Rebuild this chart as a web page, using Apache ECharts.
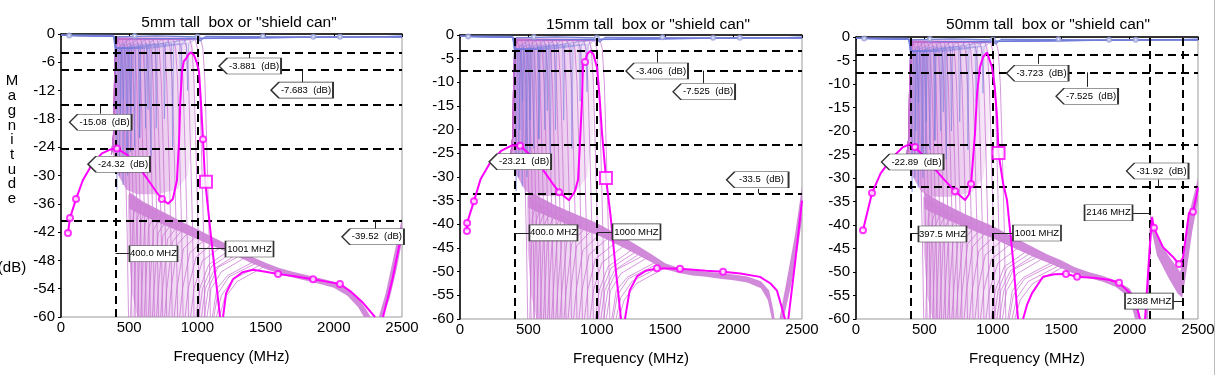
<!DOCTYPE html>
<html>
<head>
<meta charset="utf-8">
<script src="https://cdn.jsdelivr.net/npm/echarts@6/dist/echarts.min.js"></script>
<style>
html,body{margin:0;padding:0;background:#fff}
#chart{width:1218px;height:375px}
</style>
</head>
<body>
<div id="chart"></div>
<script>
// ---- data (MHz, dB) ----
const titles = ['5mm tall  box or "shield can"', '15mm tall  box or "shield can"', '50mm tall  box or "shield can"'];
const yIntervals = [6, 5, 5];

// swept family (light violet), shared by the three panels
const familyViolet = [
  [[370,-25.5],[384,-22],[392,-10],[400,-2.5],[415,-1],[425,-1.2],[440,-3],[455,-10],[470,-25],[485,-42],[495,-60],null,[510,-60],[515,-54],[528,-38.8],[560,-35.3]],
  [[375,-25],[387,-21],[395,-9],[404,-2.2],[420,-1],[450,-1.2],[465,-3],[480,-10],[495,-25],[510,-42],[520,-60],null,[535,-60],[541,-54],[556,-39.3],[596,-35.8]],
  [[378,-24.5],[390,-19],[398,-7],[408,-2],[425,-1],[475,-1.2],[490,-3],[505,-10],[520,-25],[535,-42],[545,-60],null,[560,-60],[567,-54],[585,-39.8],[632,-36.3]],
  [[370,-25.5],[384,-22],[392,-10],[400,-2.5],[415,-1],[500,-1.2],[515,-3],[530,-10],[545,-25],[560,-42],[570,-60],null,[585,-60],[593,-54],[614,-40.3],[668,-36.8]],
  [[375,-25],[387,-21],[395,-9],[404,-2.2],[420,-1],[525,-1.2],[540,-3],[555,-10],[570,-25],[585,-42],[595,-60],null,[610,-60],[620,-54],[643,-40.9],[705,-37.4]],
  [[378,-24.5],[390,-19],[398,-7],[408,-2],[425,-1],[555,-1.2],[570,-3],[585,-10],[600,-25],[615,-42],[625,-60],null,[640,-60],[651,-54],[678,-41.5],[748,-38]],
  [[370,-25.5],[384,-22],[392,-10],[400,-2.5],[415,-1],[585,-1.2],[600,-3],[615,-10],[630,-25],[645,-42],[655,-60],null,[670,-60],[682,-54],[713,-42.2],[792,-38.7]],
  [[375,-25],[387,-21],[395,-9],[404,-2.2],[420,-1],[615,-1.2],[630,-3],[645,-10],[660,-25],[675,-42],[685,-60],null,[700,-60],[714,-54],[747,-42.8],[835,-39.3]],
  [[378,-24.5],[390,-19],[398,-7],[408,-2],[425,-1],[645,-1.2],[660,-3],[675,-10],[690,-25],[705,-42],[715,-60],null,[730,-60],[745,-54],[782,-43.4],[879,-39.9]],
  [[370,-25.5],[384,-22],[392,-10],[400,-2.5],[415,-1],[675,-1.2],[690,-3],[705,-10],[720,-25],[735,-42],[745,-60],null,[760,-60],[776,-54],[817,-44],[922,-40.5]],
  [[375,-25],[387,-21],[395,-9],[404,-2.2],[420,-1],[705,-1.2],[720,-3],[735,-10],[750,-25],[765,-42],[775,-60],null,[790,-60],[808,-54],[852,-44.6],[966,-41.1]],
  [[378,-24.5],[390,-19],[398,-7],[408,-2],[425,-1],[745,-1.2],[760,-3],[775,-10],[790,-25],[805,-42],[815,-60],null,[830,-60],[849,-54],[898,-45.5],[1024,-42]],
  [[370,-25.5],[384,-22],[392,-10],[400,-2.5],[415,-1],[785,-1.2],[800,-3],[815,-10],[830,-25],[845,-42],[855,-60],null,[870,-60],[891,-54],[944,-46.4],[1082,-42.9]],
  [[375,-25],[387,-21],[395,-9],[404,-2.2],[420,-1],[825,-1.2],[840,-3],[855,-10],[870,-25],[885,-42],[895,-60],null,[910,-60],[933,-54],[990,-47.3],[1140,-43.8]],
  [[378,-24.5],[390,-19],[398,-7],[408,-2],[425,-1],[865,-1.2],[880,-3],[895,-10],[910,-25],[925,-42],[935,-60],null,[950,-60],[975,-54],[1037,-48.1],[1198,-44.6]],
  [[370,-25.5],[384,-22],[392,-10],[400,-2.5],[415,-1],[905,-1.2],[920,-3],[935,-10],[950,-25],[965,-42],[975,-60],null,[990,-60],[1017,-54],[1083,-48.9],[1256,-45.4]],
  [[375,-25],[387,-21],[395,-9],[404,-2.2],[420,-1],[945,-1.2],[960,-3],[975,-10],[990,-25],[1005,-42],[1015,-60],null,[1030,-60],[1058,-54],[1129,-49.7],[1314,-46.2]],
  [[378,-24.5],[390,-19],[398,-7],[408,-2],[425,-1],[985,-1.2],[1000,-3],[1015,-10],[1030,-25],[1045,-42],[1055,-60],null,[1070,-60],[1100,-54],[1176,-50.4],[1372,-47]],
  [[370,-25.5],[384,-22],[392,-10],[400,-2.5],[415,-1],[1025,-1.2],[1040,-3],[1055,-10],[1070,-25],[1085,-42],[1095,-60],null,[1110,-60],[1142,-54],[1222,-51.2],[1430,-48]]
];
// extra zeros of the family, rising back into the band
const familyArcs = [
  [[1120,-60],[1150,-55],[1230,-51.5],[1450,-48.3]],
  [[1140,-60],[1175,-55.5],[1260,-52],[1480,-48.7]],
  [[1160,-60],[1200,-56],[1290,-52.5],[1510,-49]],
  [[1050,-60],[1080,-54],[1150,-49.5],[1340,-46.6]],
  [[1010,-60],[1038,-54],[1105,-49.2],[1285,-45.8]]
];
// dense parts of the family, drawn as shaded envelopes
const fanUpper = [[380,-25],[386,-20],[393,-8],[400,-1.5],[410,-0.4],[960,-0.4],[985,-6],[975,-20],[930,-30],[850,-33],[700,-34],[560,-34],[480,-33],[420,-30],[395,-28]];
const fanLower = [[490,-34],[700,-37.5],[1000,-42],[1060,-44],[1060,-60],[560,-60],[520,-55],[495,-45]];

// reflection family (light blue)
const familyBlue = [
  [[0,-0.3],[385,-0.5],[395,-3],[402,-12],[410,-33],[418,-3],[450,-2],[458,-14],[466,-2],[500,-1],[2500,-0.5]],
  [[0,-0.3],[385,-0.5],[395,-3],[422,-3],[430,-30],[438,-3],[505,-2],[513,-18],[521,-2],[560,-1],[2500,-0.5]],
  [[0,-0.3],[388,-0.5],[398,-3],[447,-3],[455,-32],[463,-3],[570,-2],[578,-22],[586,-2],[620,-1],[2500,-0.5]],
  [[0,-0.3],[388,-0.5],[398,-3],[472,-3],[480,-27],[488,-3],[630,-2],[638,-16],[646,-2],[690,-1],[2500,-0.5]],
  [[0,-0.3],[390,-0.5],[400,-3],[502,-3],[510,-25],[518,-3],[690,-2],[698,-20],[706,-2],[740,-1],[2500,-0.5]],
  [[0,-0.3],[390,-0.5],[400,-3],[532,-3],[540,-24],[548,-3],[750,-2],[758,-18],[766,-2],[800,-1],[2500,-0.5]],
  [[0,-0.3],[392,-0.5],[402,-3],[567,-3],[575,-22],[583,-3],[810,-2],[818,-24],[826,-2],[870,-1],[2500,-0.5]],
  [[0,-0.3],[392,-0.5],[402,-3],[612,-3],[620,-20],[628,-3],[870,-2],[878,-14],[886,-2],[930,-1],[2500,-0.5]],
  [[0,-0.3],[395,-0.5],[405,-3],[652,-3],[660,-26],[668,-3],[920,-2],[928,-12],[936,-2],[990,-1],[2500,-0.5]],
  [[0,-0.3],[395,-0.5],[405,-3],[430,-3],[437,-20],[444,-3],[482,-3],[489,-30],[496,-3],[980,-1],[2500,-0.5]]
];
const blueMain = [[0,-0.2],[380,-0.3],[395,-1.5],[410,-0.6],[700,-0.4],[1000,-0.6],[1020,-1.5],[1060,-0.5],[2500,-0.7]];
const blueMarks = [[60,-0.3],[540,-0.4],[1000,-0.6],[1480,-0.5],[1850,-0.6],[2045,-0.6]];

// panel 1: 5mm
const magenta1 = [[51,-42.2],[66,-39],[110,-35],[160,-31],[230,-27.5],[300,-25.3],[360,-24.5],[410,-24.3],[480,-25.5],[560,-27.8],[640,-31],[700,-33.5],[740,-35],[785,-36],[820,-35],[850,-31],[865,-23],[875,-14],[887,-8],[900,-5.8],[915,-5.3],[935,-4.3],[953,-3.9],[975,-4.5],[995,-6],[1012,-8],[1025,-14],[1041,-22.3],[1056,-31],[1100,-43],[1135,-52],[1166,-60],null,[1188,-60],[1210,-55],[1261,-52],[1330,-50.5],[1408,-50],[1500,-50.4],[1591,-50.9],[1700,-51.3],[1848,-52],[1950,-52.5],[2045,-53],[2120,-54.5],[2214,-57],[2302,-60],null,[2361,-60],[2430,-52],[2500,-42]];
const marks1 = [[51,-42.2],[66,-39],[110,-35],[410,-24.3],[740,-35],[1041,-22.3],[1591,-50.9],[1848,-52],[2045,-53]];
const boxes1 = [[1063,-31.3]];
const hLines1 = [-3.881, -7.683, -15.08, -24.32, -39.52];
const vLines1 = [400, 1001];
const bandUpper1 = [[500,-33.5],[600,-35.5],[700,-37],[800,-38.5],[900,-40],[1000,-41.4],[1100,-42.9],[1200,-44.3],[1300,-45.8],[1400,-47.2],[1500,-48.5],[1600,-49.6],[1700,-50.4],[1800,-51.1],[1900,-51.8],[2000,-52.5],[2100,-54],[2180,-56],[2240,-58.5],[2270,-60]];
const bandLower1 = [[500,-37],[600,-38.5],[700,-39.8],[800,-41],[900,-42.2],[1000,-43.5],[1100,-44.8],[1200,-46],[1300,-47.3],[1400,-48.6],[1500,-49.8],[1600,-50.8],[1700,-51.6],[1800,-52.3],[1900,-53],[2000,-53.8],[2100,-55.5],[2180,-58],[2220,-60]];
const riseUpper1 = [[2330,-60],[2380,-55],[2440,-47],[2500,-39]];
const riseLower1 = [[2360,-60],[2410,-56],[2460,-50],[2500,-44]];
const callouts1 = [[1386,-6.8,'-3.881  (dB)'],[1767,-11.9,'-7.683  (dB)'],[290,-18.7,'-15.08  (dB)'],[425,-27.6,'-24.32  (dB)'],[2287,-43.0,'-39.52  (dB)']];
const mhz1 = [[678,-46.6,'400.0 MHZ'],[1382,-45.6,'1001 MHZ']];
const leaders1 = [[[1378,-3.881],[1378,-5.4]],[[1767,-7.683],[1767,-10.2]],[[286,-15.08],[286,-16.9]],[[2302,-39.52],[2302,-41.3]],[[400,-46.4],[506,-46.4]],[[1001,-45.4],[1210,-45.4]]];

// panel 2: 15mm
const magenta2 = [[51,-41.4],[52,-39.7],[102,-35.1],[150,-30.5],[220,-27],[300,-24.5],[380,-23.3],[439,-23.4],[520,-25.5],[607,-28.5],[680,-31.5],[724,-33.2],[797,-34.9],[840,-33],[863,-30.6],[877,-22.8],[892,-13.7],[899,-6],[914,-5.7],[930,-4],[950,-3.4],[975,-4],[1001,-6.8],[1020,-13],[1038,-20.7],[1067,-30.2],[1100,-38],[1140,-50],[1177,-60],null,[1206,-60],[1240,-54],[1294,-51],[1360,-49.8],[1440,-49.3],[1608,-49.4],[1800,-49.8],[1923,-50],[2050,-50.4],[2193,-51.1],[2270,-52.5],[2317,-54],[2376,-60],null,[2400,-60],[2450,-48],[2500,-35]];
const marks2 = [[51,-41.4],[52,-39.7],[102,-35.1],[439,-23.4],[724,-33.2],[914,-5.7],[1440,-49.3],[1608,-49.4],[1923,-50]];
const boxes2 = [[1067,-30.2]];
const hLines2 = [-3.406, -7.525, -23.21, -33.5];
const vLines2 = [400, 1000];
const bandUpper2 = [[500,-33],[600,-34.5],[700,-36],[800,-37.3],[900,-38.5],[1000,-39.7],[1100,-41.3],[1200,-42.8],[1300,-44.5],[1400,-46.3],[1500,-48.2],[1600,-49.2],[1700,-49.7],[1800,-50],[1900,-50.3],[2000,-50.6],[2100,-51],[2200,-52],[2260,-54],[2290,-58],[2300,-60]];
const bandLower2 = [[500,-36.5],[600,-37.8],[700,-39],[800,-40.2],[900,-41.2],[1000,-42.2],[1100,-43.6],[1200,-45],[1300,-46.5],[1400,-48],[1500,-49.5],[1600,-50.3],[1700,-50.8],[1800,-51.1],[1900,-51.5],[2000,-51.8],[2100,-52.3],[2200,-53.5],[2250,-56],[2280,-60]];
const riseUpper2 = [[2335,-60],[2400,-50],[2450,-42],[2500,-32]];
const riseLower2 = [[2365,-60],[2420,-53],[2470,-45],[2500,-39]];
const callouts2 = [[1440,-7.6,'-3.406  (dB)'],[1784,-12.0,'-7.525  (dB)'],[439,-26.8,'-23.21  (dB)'],[2175,-30.6,'-33.5  (dB)']];
const mhz2 = [[683,-41.8,'400.0 MHZ'],[1290,-41.6,'1000 MHZ']];
const leaders2 = [[[1440,-3.406],[1440,-5.8]],[[1776,-7.525],[1776,-10.2]],[[2178,-33.5],[2178,-32.5]],[[400,-41.8],[512,-41.8]],[[1000,-41.6],[1118,-41.6]]];

// panel 3: 50mm
const magenta3 = [[51,-41.1],[117,-33.2],[180,-29],[270,-25.5],[340,-23.5],[395,-22.8],[431,-23.4],[500,-25.5],[563,-27.7],[650,-30.5],[724,-32.8],[797,-34.7],[825,-33.5],[841,-31.3],[870,-20.4],[885,-12],[906,-6.4],[930,-4.2],[958,-3.3],[994,-6.4],[1015,-11],[1031,-17],[1042,-24.7],[1075,-31.1],[1104,-34.7],[1150,-48],[1184,-60],null,[1221,-60],[1250,-57],[1287,-54.5],[1367,-51],[1450,-50.5],[1535,-50.4],[1616,-51],[1750,-51.3],[1857,-51.7],[1923,-52.3],[2003,-54.5],[2050,-57],[2076,-60],null,[2113,-60],[2140,-48],[2164,-38.3],[2178,-40.6],[2244,-44.7],[2317,-46.8],[2361,-48.3],[2390,-47],[2405,-43.8],[2434,-37.4],[2463,-37.2],[2493,-33.2],[2500,-32]];
const marks3 = [[51,-41.1],[117,-33.2],[431,-23.4],[724,-32.8],[841,-31.3],[1535,-50.4],[1616,-51],[1923,-52.3],[2178,-40.6],[2361,-48.3],[2463,-37.2]];
const boxes3 = [[1042,-24.7]];
const hLines3 = [-3.723, -7.525, -22.89, -31.92];
const vLines3 = [397.5, 1001, 2146, 2388];
const bandUpper3 = [[500,-33],[600,-34.8],[700,-36.3],[800,-37.7],[900,-39],[1000,-40.2],[1100,-41.8],[1200,-43.3],[1300,-44.8],[1400,-46.3],[1500,-47.5],[1600,-49],[1700,-50],[1800,-50.8],[1900,-51.8],[2000,-53.5],[2050,-56],[2080,-60]];
const bandLower3 = [[500,-36.5],[600,-38],[700,-39.3],[800,-40.5],[900,-41.7],[1000,-42.8],[1100,-44.2],[1200,-45.5],[1300,-46.8],[1400,-48],[1500,-49.2],[1600,-50.4],[1700,-51.3],[1800,-52],[1900,-53.2],[2000,-55.5],[2040,-60]];
const riseUpper3 = [[2118,-60],[2150,-37.5],[2180,-41],[2250,-45],[2320,-48],[2370,-50],[2400,-46],[2440,-37],[2500,-30]];
const riseLower3 = [[2135,-60],[2160,-41],[2200,-46.5],[2280,-51],[2350,-54.5],[2385,-55.5],[2410,-51],[2460,-41],[2500,-35]];
const callouts3 = [[1327,-7.7,'-3.723  (dB)'],[1689,-12.6,'-7.525  (dB)'],[413,-26.6,'-22.89  (dB)'],[2204,-28.5,'-31.92  (dB)']];
const mhz3 = [[632,-41.9,'397.5 MHZ'],[1323,-41.7,'1001 MHZ'],[1846,-37.4,'2146 MHZ'],[2142,-56.2,'2388 MHZ']];
const leaders3 = [[[1330,-3.723],[1330,-5.7]],[[1689,-7.525],[1689,-10.6]],[[2208,-31.92],[2208,-30.3]],[[397.5,-41.8],[460,-41.8]],[[1001,-41.7],[1148,-41.7]],[[2018,-37.4],[2146,-37.4]],[[2318,-56.2],[2388,-56.2]]];

// ---- layout / styles ----
const FONT = 'Liberation Sans, Arial, sans-serif';
const grids = [
  {left: 61, top: 34, width: 341, height: 283},
  {left: 460, top: 35, width: 342, height: 284},
  {left: 856, top: 37, width: 342, height: 282}
];
const titleX = [234, 643, 1043];
const titleY = [10, 12, 12];

const panels = [
  {magenta: magenta1, marks: marks1, boxes: boxes1, hLines: hLines1, vLines: vLines1, bands: [[bandUpper1, bandLower1], [riseUpper1, riseLower1]], callouts: callouts1, mhz: mhz1, leaders: leaders1},
  {magenta: magenta2, marks: marks2, boxes: boxes2, hLines: hLines2, vLines: vLines2, bands: [[bandUpper2, bandLower2], [riseUpper2, riseLower2]], callouts: callouts2, mhz: mhz2, leaders: leaders2},
  {magenta: magenta3, marks: marks3, boxes: boxes3, hLines: hLines3, vLines: vLines3, bands: [[bandUpper3, bandLower3], [riseUpper3, riseLower3]], callouts: callouts3, mhz: mhz3, leaders: leaders3}
];

function joinCurves(curves) {
  var out = [];
  curves.forEach(function (c, k) {
    if (k) out.push(null);
    c.forEach(function (p) { out.push(p); });
  });
  return out;
}

function polySeries(ax, pts, fill, z) {
  return Object.assign({type: 'custom', data: [[0, 0]], z: z,
    renderItem: function (params, api) {
      return {type: 'polygon', shape: {points: pts.map(function (q) { return api.coord(q); })}, style: {fill: fill}};
    }}, ax);
}

function hGrad(a, b) {
  return new echarts.graphic.LinearGradient(0, 0, 1, 0, [{offset: 0, color: a}, {offset: 1, color: b}]);
}

var series = [];
panels.forEach(function (p, i) {
  var ax = {xAxisIndex: i, yAxisIndex: i, animation: false, silent: true};
  series.push(polySeries(ax, fanUpper, hGrad('rgba(200,112,210,0.72)', 'rgba(200,112,210,0.12)'), 1));
  series.push(polySeries(ax, fanLower, hGrad('rgba(200,112,210,0.45)', 'rgba(200,112,210,0.12)'), 1));
  series.push(Object.assign({type: 'line', data: joinCurves(familyViolet.concat(familyArcs)), showSymbol: false, z: 2,
    lineStyle: {color: 'rgba(198,112,208,0.8)', width: 0.9}}, ax));
  series.push(Object.assign({type: 'line', data: joinCurves(familyBlue), showSymbol: false, z: 3,
    lineStyle: {color: 'rgba(110,120,220,0.6)', width: 0.8}}, ax));
  series.push(Object.assign({type: 'line', data: blueMain, showSymbol: false, z: 3,
    lineStyle: {color: '#7480d4', width: 1.2}}, ax));
  series.push(Object.assign({type: 'scatter', data: blueMarks, z: 3, symbol: 'emptyCircle', symbolSize: 4,
    itemStyle: {color: '#9aa2dc', borderWidth: 1}}, ax));
  p.bands.forEach(function (b) {
    series.push(polySeries(ax, b[0].concat(b[1].slice().reverse()), 'rgba(205,128,214,0.92)', 3));
  });
  series.push(Object.assign({type: 'line', data: p.magenta, showSymbol: false, z: 5,
    lineStyle: {color: '#ff00ff', width: 2},
    markLine: {silent: true, symbol: ['none', 'none'], label: {show: false}, animation: false,
      lineStyle: {color: '#000', type: [8, 5], width: 2},
      data: p.hLines.map(function (v) { return {yAxis: v}; }).concat(p.vLines.map(function (v) { return {xAxis: v}; }))}}, ax));
  series.push(Object.assign({type: 'scatter', data: p.marks, z: 6, symbol: 'emptyCircle', symbolSize: 6,
    itemStyle: {color: '#ff00ff', borderWidth: 1.5}}, ax));
  series.push(Object.assign({type: 'scatter', data: p.boxes, z: 6, symbol: 'emptyRect', symbolSize: 12,
    itemStyle: {color: '#ff00ff', borderWidth: 1}}, ax));
  series.push(Object.assign({type: 'lines', coordinateSystem: 'cartesian2d', z: 7,
    data: p.leaders.map(function (c) { return {coords: c}; }),
    lineStyle: {color: '#222', width: 1, opacity: 1}}, ax));
  series.push(Object.assign({type: 'scatter', z: 8,
    data: p.callouts.map(function (c) { return {value: [c[0], c[1]], name: c[2]}; }),
    symbol: 'path://M0,8L8,0L62,0L62,16L8,16Z', symbolSize: [62, 16],
    itemStyle: {color: '#ffffff', opacity: 1, borderColor: '#333', borderWidth: 1},
    label: {show: true, position: 'inside', offset: [4, 0], formatter: '{b}', fontSize: 9.5, color: '#000', fontFamily: FONT}}, ax));
  series.push(Object.assign({type: 'scatter', z: 8,
    data: p.mhz.map(function (c) { return {value: [c[0], c[1]], name: c[2]}; }),
    symbol: 'rect', symbolSize: [48, 16],
    itemStyle: {color: '#ffffff', opacity: 1, borderColor: '#333', borderWidth: 1},
    label: {show: true, position: 'inside', formatter: '{b}', fontSize: 9.5, color: '#000', fontFamily: FONT}}, ax));
});

var option = {
  backgroundColor: '#fff',
  animation: false,
  textStyle: {fontFamily: FONT},
  title: titles.map(function (t, i) {
    return {text: t, left: titleX[i], top: titleY[i], textAlign: 'center',
      textStyle: {fontSize: 15.5, fontWeight: 'normal', color: '#000', fontFamily: FONT}};
  }),
  grid: grids.map(function (g) {
    return Object.assign({show: true, borderColor: '#999', borderWidth: 1, backgroundColor: 'transparent', containLabel: false}, g);
  }),
  xAxis: grids.map(function (g, i) {
    return {type: 'value', gridIndex: i, min: 0, max: 2500, interval: 500,
      name: 'Frequency (MHz)', nameLocation: 'middle', nameGap: 32,
      nameTextStyle: {fontSize: 15, color: '#000', fontFamily: FONT},
      axisLine: {lineStyle: {color: '#000', width: 1.5}},
      axisTick: {length: 3, lineStyle: {color: '#000'}},
      axisLabel: {fontSize: 15, color: '#000', margin: 3, fontFamily: FONT, formatter: function (v) { return String(v); }},
      splitLine: {show: false}};
  }),
  yAxis: grids.map(function (g, i) {
    return {type: 'value', gridIndex: i, min: -60, max: 0, interval: yIntervals[i],
      axisLine: {show: true, lineStyle: {color: '#000', width: 1.5}},
      axisTick: {show: true, length: 3, lineStyle: {color: '#000'}},
      axisLabel: {fontSize: 15, color: '#000', margin: 6, fontFamily: FONT},
      splitLine: {show: false}};
  }),
  graphic: [
    {type: 'text', x: 12, y: 74, silent: true,
      style: {text: 'M\na\ng\nn\ni\nt\nu\nd\ne', align: 'center', textAlign: 'center', lineHeight: 14.7, font: '15px ' + FONT, fill: '#000'}},
    {type: 'text', x: 12, y: 260, silent: true,
      style: {text: '(dB)', align: 'center', textAlign: 'center', font: '15px ' + FONT, fill: '#000'}},
    {type: 'rect', shape: {x: 1214, y: 0, width: 1, height: 375}, style: {fill: '#bbb'}, silent: true}
  ],
  series: series
};

var chart = echarts.init(document.getElementById('chart'));
chart.setOption(option);
</script>
</body>
</html>
